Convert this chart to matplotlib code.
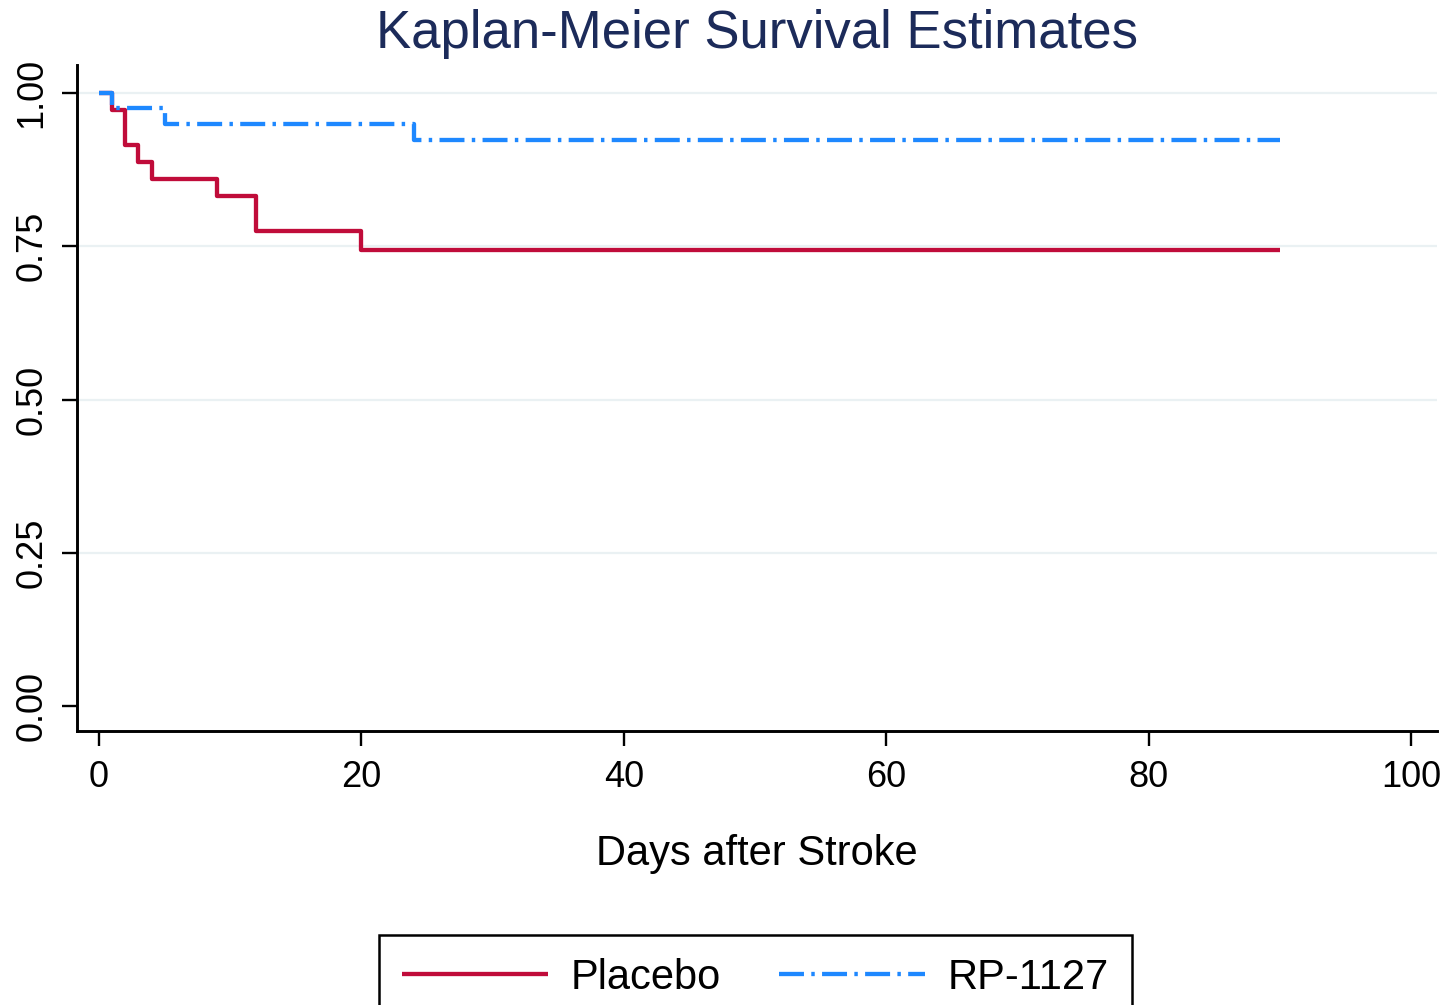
import matplotlib
matplotlib.use("Agg")
import matplotlib.pyplot as plt

plt.rcParams["font.family"] = ["Liberation Sans", "DejaVu Sans"]

# Kaplan-Meier step estimates by arm
placebo_days = [0, 1, 2, 3, 4, 9, 12, 20, 90]
placebo_surv = [1.0, 0.972, 0.916, 0.888, 0.860, 0.832, 0.775, 0.744, 0.744]

rp_days = [0, 1, 5, 24, 90]
rp_surv = [1.0, 0.975, 0.950, 0.923, 0.923]

x_ticks = [0, 20, 40, 60, 80, 100]
y_ticks = [0.0, 0.25, 0.5, 0.75, 1.0]
y_tick_labels = ["0.00", "0.25", "0.50", "0.75", "1.00"]

red = "#C00C3A"
blue = "#1E88FF"
grid_color = "#EAF1F3"

fig = plt.figure(figsize=(14.47, 10.05), dpi=100)
ax = fig.add_axes([77 / 1447, 1 - 731 / 1005, (1437 - 77) / 1447, (731 - 65) / 1005])

for yv in y_ticks[1:]:
    ax.axhline(yv, color=grid_color, lw=1.6, zorder=0)

ax.step(placebo_days, placebo_surv, where="post", color=red, lw=3.1,
        solid_capstyle="butt", label="Placebo", zorder=3)
ax.step(rp_days, rp_surv, where="post", color=blue, lw=3.1,
        dashes=(5.8, 1.7, 0.8, 1.7), dash_capstyle="butt", label="RP-1127", zorder=3)

ax.set_xlim(-1.68, 101.98)
ax.set_ylim(-0.0408, 1.0457)
ax.set_xticks(x_ticks)
ax.set_yticks(y_ticks)
ax.set_yticklabels(y_tick_labels, rotation=90, va="center")

ax.spines["top"].set_visible(False)
ax.spines["right"].set_visible(False)
ax.spines["left"].set_linewidth(2.1)
ax.spines["bottom"].set_linewidth(2.1)
ax.tick_params(axis="both", direction="out", length=11, width=1.7, labelsize=26)
ax.tick_params(axis="x", pad=10)
ax.tick_params(axis="y", pad=9)

ax.set_xlabel("Days after Stroke", fontsize=30, labelpad=28)

fig.text(ax.get_position().x0 + ax.get_position().width / 2, 1 - 48 / 1005,
         "Kaplan-Meier Survival Estimates", fontsize=38, color="#1C2B5A",
         ha="center", va="baseline")

leg = fig.legend(loc="upper center", bbox_to_anchor=(755.5 / 1447, 1 - 935 / 1005),
                 ncol=2, fontsize=30, frameon=True, fancybox=False, framealpha=1,
                 handlelength=3.5, handletextpad=0.55, columnspacing=1.4,
                 borderpad=0.55, borderaxespad=0)
leg.get_frame().set_edgecolor("black")
leg.get_frame().set_linewidth(1.8)

fig.savefig("out.png", dpi=100)
